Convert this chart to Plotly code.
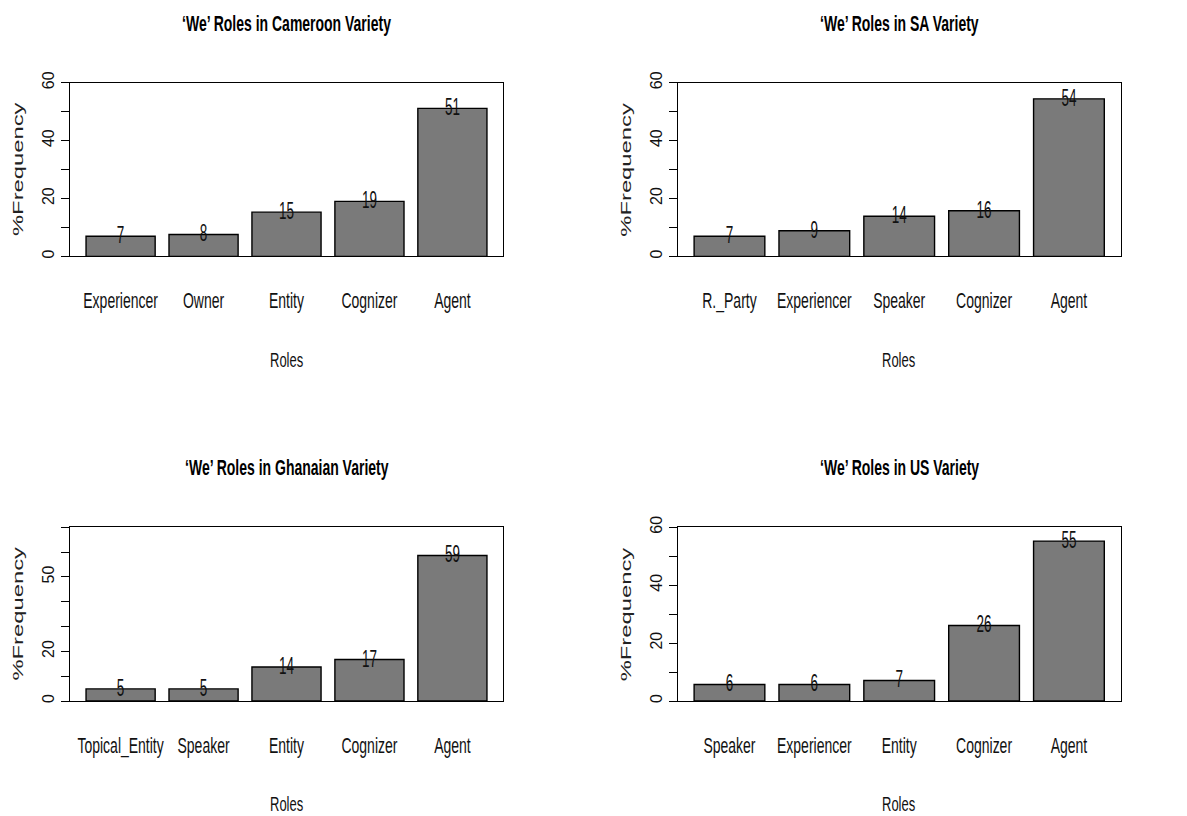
import plotly.graph_objects as go

W, H = 1187, 816

# ---------------- data ----------------
titles = ["\u2018We\u2019 Roles in Cameroon Variety", "\u2018We\u2019 Roles in SA Variety",
          "\u2018We\u2019 Roles in Ghanaian Variety", "\u2018We\u2019 Roles in US Variety"]

cameroon_roles = ["Experiencer", "Owner", "Entity", "Cognizer", "Agent"]
cameroon_pct = [7.0, 7.6, 15.3, 19.0, 51.1]

sa_roles = ["R._Party", "Experiencer", "Speaker", "Cognizer", "Agent"]
sa_pct = [7.0, 8.9, 13.9, 15.8, 54.4]

ghana_roles = ["Topical_Entity", "Speaker", "Entity", "Cognizer", "Agent"]
ghana_pct = [4.9, 4.9, 13.7, 16.7, 58.6]

us_roles = ["Speaker", "Experiencer", "Entity", "Cognizer", "Agent"]
us_pct = [5.7, 5.7, 7.1, 26.1, 55.2]

y_ticks_60 = [0, 10, 20, 30, 40, 50, 60]
y_ticktext_60 = ["0", "", "20", "", "40", "", "60"]
y_ticks_70 = [0, 10, 20, 30, 40, 50, 60, 70]
y_ticktext_70 = ["0", "", "20", "", "", "50", "", ""]

x_label = "Roles"
y_label = "%Frequency"

# ---------------- layout helpers ----------------
FONT = "Liberation Sans, Arial, sans-serif"
BAR_COLOR = "#7a7a7a"


def fy(v):
    # vertical pixel position used in the figure for a wanted on-screen position
    return (v - 9.3) / 0.985


# panel boxes in pixels: (left, right, top, bottom)
boxes = [(70, 503, fy(81), fy(255)), (677.7, 1120.7, fy(81), fy(255)),
         (70, 503, fy(526), fy(700)), (677.7, 1120.7, fy(526), fy(700))]
title_y = [12.0, 12.0, 463.7, 463.7]
roles_y = [354.0, 354.0, 805.0, 805.0]

panels = [
    (cameroon_roles, cameroon_pct, [0, 60], y_ticks_60, y_ticktext_60),
    (sa_roles, sa_pct, [0, 60], y_ticks_60, y_ticktext_60),
    (ghana_roles, ghana_pct, [0, 70], y_ticks_70, y_ticktext_70),
    (us_roles, us_pct, [0, 60], y_ticks_60, y_ticktext_60),
]


def px_x(v):
    return v / W


def px_y(v):
    return 1 - v / H


fig = go.Figure()
annotations = []
layout = {}

for i, (roles, pct, yr, yt, ytt) in enumerate(panels):
    n = "" if i == 0 else str(i + 1)
    xa, ya = "x" + n, "y" + n
    l, r, t, b = boxes[i]

    fig.add_trace(go.Bar(
        x=roles, y=pct, xaxis=xa, yaxis=ya,
        marker=dict(color=BAR_COLOR, line=dict(color="black", width=1.4)),
        hoverinfo="skip", showlegend=False,
    ))
    fig.add_trace(go.Scatter(
        x=roles, y=pct, xaxis=xa, yaxis=ya, mode="text",
        text=[str(int(round(v))) for v in pct],
        textposition="middle center",
        textfont=dict(family=FONT, size=13.5, color="#111111"),
        cliponaxis=False, hoverinfo="skip", showlegend=False,
    ))

    layout["xaxis" + n] = dict(
        domain=[px_x(l), px_x(r)], anchor=ya, range=[-0.61, 4.61],
        showline=True, mirror=True, linecolor="black", linewidth=1.3,
        ticks="", showgrid=False, zeroline=False, fixedrange=True,
        tickangle=0,
        tickfont=dict(family=FONT, size=14, color="#111111"),
        ticklabelstandoff=31,
    )
    layout["yaxis" + n] = dict(
        domain=[px_y(b), px_y(t)], anchor=xa, range=yr,
        showline=True, mirror=True, linecolor="black", linewidth=1.3,
        ticks="outside", ticklen=8, tickwidth=1.3, tickcolor="black",
        tickvals=yt, ticktext=ytt, tickangle=-90,
        showgrid=False, zeroline=False, fixedrange=True,
        tickfont=dict(family=FONT, size=16, color="#111111"),
        ticklabelstandoff=0,
    )

    cx = (l + r) / 2
    annotations.append(dict(
        text="<b>" + titles[i] + "</b>", x=px_x(cx), y=px_y(title_y[i]),
        xref="paper", yref="paper", xanchor="center", yanchor="middle",
        showarrow=False, font=dict(family=FONT, size=14, color="black")))
    annotations.append(dict(
        text=x_label, x=px_x(cx), y=px_y(roles_y[i]),
        xref="paper", yref="paper", xanchor="center", yanchor="middle",
        showarrow=False, font=dict(family=FONT, size=13, color="#111111")))
    annotations.append(dict(
        text=y_label, x=px_x(l - 52), y=px_y((t + b) / 2), textangle=-90,
        xref="paper", yref="paper", xanchor="center", yanchor="middle",
        showarrow=False, font=dict(family=FONT, size=14, color="#222222")))

fig.update_layout(
    width=W, height=H, margin=dict(l=0, r=0, t=0, b=0),
    paper_bgcolor="white", plot_bgcolor="white",
    bargap=0.2 / 1.2, showlegend=False,
    annotations=annotations, **layout,
)

# The reference image is stretched vertically: mimic the tall, narrow lettering.
post = """
(function(){
  document.body.style.margin = '0';
  var gd = document.getElementById('{plot_id}');
  function st(el, sx, sy){
    var bb = el.getBBox();
    var cx = bb.x + bb.width/2, cy = bb.y + bb.height/2;
    var t = el.getAttribute('transform') || '';
    el.setAttribute('transform', t + ' translate(' + cx + ',' + cy + ') scale(' + sx + ',' + sy + ') translate(' + (-cx) + ',' + (-cy) + ')');
  }
  gd.querySelectorAll('.xtick text, .x2tick text, .x3tick text, .x4tick text').forEach(function(el){ st(el, 1, 1.6); });
  gd.querySelectorAll('.textpoint text').forEach(function(el){ st(el, 1, 1.8); });
  gd.querySelectorAll('.annotation-text').forEach(function(el){
    if (el.textContent === '%Frequency') { st(el, 1.7, 1); } else { st(el, 1, 1.6); }
  });
})();
"""

fig.write_html("out.html", post_script=post, config={"displayModeBar": False})
